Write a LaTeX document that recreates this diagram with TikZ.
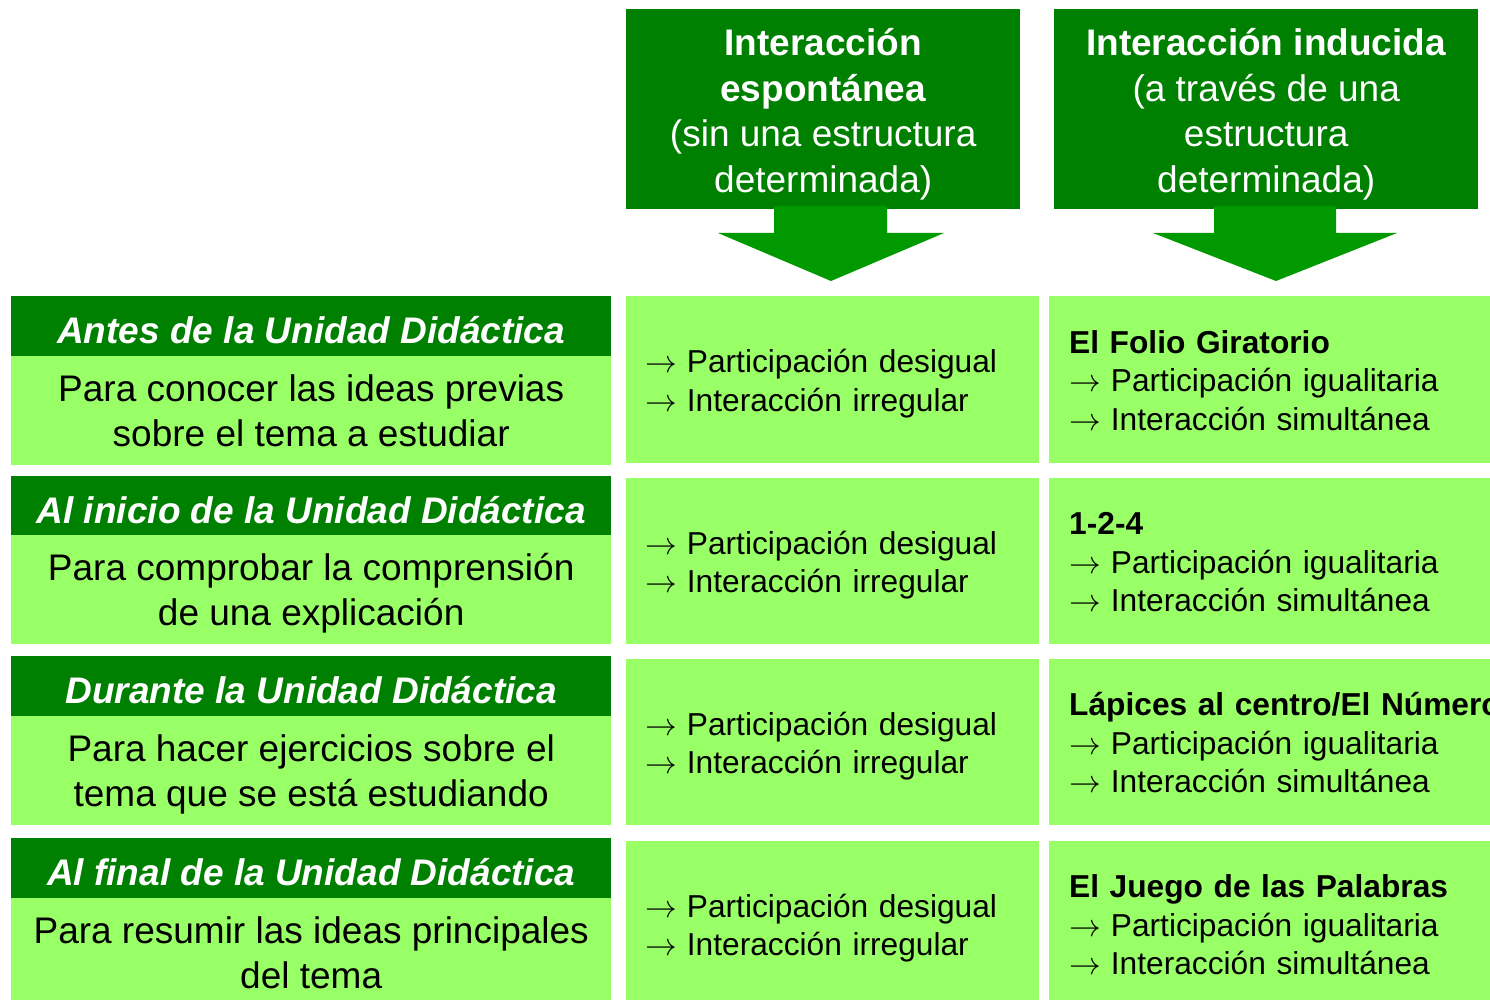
\documentclass[tikz,border=0pt]{standalone}
\usepackage{fontspec}
\setmainfont{Liberation Sans}
\usepackage{amsmath}
\usepackage{amssymb}
\usepackage{tikz}
\definecolor{darkgreen}{RGB}{0,128,0}
\definecolor{arrowgreen}{RGB}{0,153,0}
\definecolor{lightgreen}{RGB}{153,255,102}
\font\arrowfont=cmsy10 at 31.7pt
\newcommand{\goesto}{{\arrowfont\char"21}\hspace{10pt}}

\begin{document}
\begin{tikzpicture}[x=1pt, y=-1pt,
    topbox/.style={fill=darkgreen, text=white, anchor=north west, inner sep=0pt,
        text height=177pt, text depth=10pt,
        align=center, minimum height=200pt, font=\fontsize{37}{45.7}\selectfont},
    phase/.style={fill=darkgreen, text=white, anchor=north west, inner sep=0pt,
        text height=34pt, text depth=0pt,
        minimum width=600pt, minimum height=60pt, font=\fontsize{37}{44}\selectfont\bfseries\itshape},
    aim/.style={fill=lightgreen, anchor=north west, inner sep=0pt, align=center,
        text height=82pt, text depth=10pt,
        minimum width=600pt, minimum height=109pt, font=\fontsize{37}{45}\selectfont},
    cell/.style={fill=lightgreen, anchor=north west, inner ysep=0pt, align=left,
        minimum height=166pt, font=\fontsize{31.7}{38.5}\selectfont},
    midcell/.style={cell, inner xsep=19pt, text width=375pt, text height=33.9pt, text depth=47.5pt},
    sidecell/.style={cell, inner xsep=20pt, text width=430pt, text height=33.4pt, text depth=86pt}]
            \useasboundingbox (0,0) rectangle (1490,1000);
            \clip (0,0) rectangle (1490,1000);

            % column heads
            \node[topbox, minimum width=394pt] (esp) at (626,9) {\textbf{Interacción}\\\textbf{espontánea}\\(sin una estructura\\determinada)};
            \node[topbox, minimum width=424pt] (ind) at (1054,9) {\textbf{Interacción inducida}\\(a través de una\\estructura\\determinada)};
            \fill[arrowgreen] (774,206) -- (887,206) -- (887,233) -- (944,233) -- (831,281) -- (718,233) -- (774,233) -- cycle;
            \fill[arrowgreen] (1214,206) -- (1336,206) -- (1336,233) -- (1397,233) -- (1276,281) -- (1153,233) -- (1214,233) -- cycle;

            % row 1
            \node[phase] (h1) at (11,296) {Antes de la Unidad Didáctica};
            \node[aim] (a1) at (11,356) {Para conocer las ideas previas\\sobre el tema a estudiar};
            \node[midcell, minimum height=167pt] (m1) at (626,296) {\goesto Participación desigual\\\goesto Interacción irregular};
            \node[sidecell, minimum height=167pt] (r1) at (1049,296) {\textbf{El Folio Giratorio}\\\goesto Participación igualitaria\\\goesto Interacción simultánea};

            % row 2
            \node[phase] (h2) at (11,476) {Al inicio de la Unidad Didáctica};
            \node[aim] (a2) at (11,535) {Para comprobar la comprensión\\de una explicación};
            \node[midcell] (m2) at (626,478) {\goesto Participación desigual\\\goesto Interacción irregular};
            \node[sidecell] (r2) at (1049,478) {\textbf{1-2-4}\\\goesto Participación igualitaria\\\goesto Interacción simultánea};

            % row 3
            \node[phase] (h3) at (11,656) {Durante la Unidad Didáctica};
            \node[aim] (a3) at (11,716) {Para hacer ejercicios sobre el\\tema que se está estudiando};
            \node[midcell] (m3) at (626,659) {\goesto Participación desigual\\\goesto Interacción irregular};
            \node[sidecell] (r3) at (1049,659) {\mbox{\textbf{Lápices al centro/El Número}}\\\goesto Participación igualitaria\\\goesto Interacción simultánea};

            % row 4
            \node[phase] (h4) at (11,838) {Al final de la Unidad Didáctica};
            \node[aim] (a4) at (11,898) {Para resumir las ideas principales\\del tema};
            \node[midcell] (m4) at (626,841) {\goesto Participación desigual\\\goesto Interacción irregular};
            \node[sidecell] (r4) at (1049,841) {\textbf{El Juego de las Palabras}\\\goesto Participación igualitaria\\\goesto Interacción simultánea};
        \end{tikzpicture}
\end{document}
